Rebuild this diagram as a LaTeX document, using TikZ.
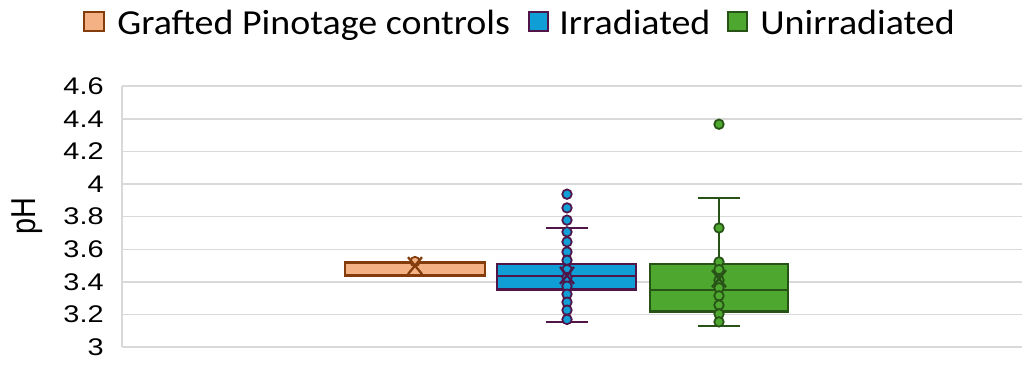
\documentclass[tikz,border=0pt]{standalone}
\usepackage{fontspec}
\setmainfont{Liberation Sans}
\newfontfamily\legendfont[FakeStretch=1.08]{Carlito}
\newfontfamily\tickfont[FakeStretch=1.2]{Liberation Sans}
\usepackage{tikz}
\usetikzlibrary{positioning}
\usepackage{xcolor}
\definecolor{gpfill}{RGB}{244,177,131}
\definecolor{gpedge}{RGB}{132,60,12}
\definecolor{irfill}{RGB}{15,158,213}
\definecolor{iredge}{RGB}{80,21,73}
\definecolor{unfill}{RGB}{78,167,46}
\definecolor{unedge}{RGB}{39,83,23}
\definecolor{gridgray}{RGB}{217,217,217}
\tikzstyle{gridline} = [draw=gridgray, line width=0.85pt]
\tikzstyle{ticklabel} = [anchor=east, inner sep=0pt, font=\tickfont\fontsize{13.7}{16}\selectfont]
\tikzstyle{legendtext} = [anchor=base west, inner sep=0pt, font=\legendfont\fontsize{20}{23}\selectfont]
\tikzstyle{gpbox} = [draw=gpedge, fill=gpfill, line width=1.5pt]
\tikzstyle{irbox} = [draw=iredge, fill=irfill, line width=1.5pt]
\tikzstyle{unbox} = [draw=unedge, fill=unfill, line width=1.5pt]
\tikzstyle{whisker} = [line width=1.4pt]
\tikzstyle{dot} = [circle, minimum size=0.19cm, inner sep=0pt, line width=1pt]
\tikzstyle{meanmark} = [line width=1.3pt]

\begin{document}
\begin{tikzpicture}[x=0.02cm, y=3.262cm]
\useasboundingbox (0,2.812) rectangle (1025,5.129);

% axis and gridlines
\draw[gridline] (122,3) -- (122,4.6);
\foreach \t [count=\i] in {3,3.2,3.4,3.6,3.8,4,4.2,4.4,4.6} {
  \draw[gridline] (122,\t) -- (1022,\t);
  \node (tick\i) [ticklabel] at (104,\t) {\t};
}
\node (ylabel) [transform shape, xscale=1.2, rotate=90, inner sep=0pt, font=\fontsize{16.4}{19}\selectfont] at (27,3.805) {pH};

% Grafted Pinotage controls
\draw[gpbox] (345,3.44) rectangle (485,3.52);
\draw[whisker, draw=gpedge] (345,3.52) -- (485,3.52);
\node (gp1) [dot, draw=gpedge, fill=gpfill] at (415,3.525) {};
\draw[meanmark, draw=gpedge] (415,3.50) ++(-7,-0.052) -- ++(14,0.104) ++(0,-0.104) -- ++(-14,0.104);

% Irradiated
\draw[whisker, draw=iredge] (567,3.155) -- (567,3.731);
\draw[whisker, draw=iredge] (546,3.731) -- (588,3.731);
\draw[whisker, draw=iredge] (546,3.155) -- (588,3.155);
\draw[irbox] (497,3.354) rectangle (636,3.509);
\draw[whisker, draw=iredge] (497,3.435) -- (636,3.435);
\foreach \v [count=\i] in {3.938,3.854,3.779,3.707,3.646,3.584,3.533,3.476,3.427,3.374,3.325,3.276,3.227,3.170}
  \node (ir\i) [dot, draw=iredge, fill=irfill] at (567,\v) {};
\draw[meanmark, draw=iredge] (567,3.44) ++(-7,-0.052) -- ++(14,0.104) ++(0,-0.104) -- ++(-14,0.104);

% Unirradiated
\draw[whisker, draw=unedge] (719,3.131) -- (719,3.915);
\draw[whisker, draw=unedge] (698,3.915) -- (740,3.915);
\draw[whisker, draw=unedge] (698,3.131) -- (740,3.131);
\draw[unbox] (650,3.217) rectangle (788,3.509);
\draw[whisker, draw=unedge] (650,3.351) -- (788,3.351);
\foreach \v [count=\i] in {4.367,3.731,3.523,3.476,3.411,3.364,3.315,3.258,3.204,3.155}
  \node (un\i) [dot, draw=unedge, fill=unfill] at (719,\v) {};
\draw[meanmark, draw=unedge] (719,3.42) ++(-7,-0.052) -- ++(14,0.104) ++(0,-0.104) -- ++(-14,0.104);

% legend
\draw[gpbox] (84,4.939) rectangle (104,5.056);
\node (leg1) [legendtext] at (117,4.915) {Grafted Pinotage controls};
\draw[irbox] (529,4.939) rectangle (548,5.056);
\node (leg2) [legendtext] at (559,4.915) {Irradiated};
\draw[unbox] (728,4.939) rectangle (747,5.056);
\node (leg3) [legendtext] at (760,4.915) {Unirradiated};
\end{tikzpicture}
\end{document}
